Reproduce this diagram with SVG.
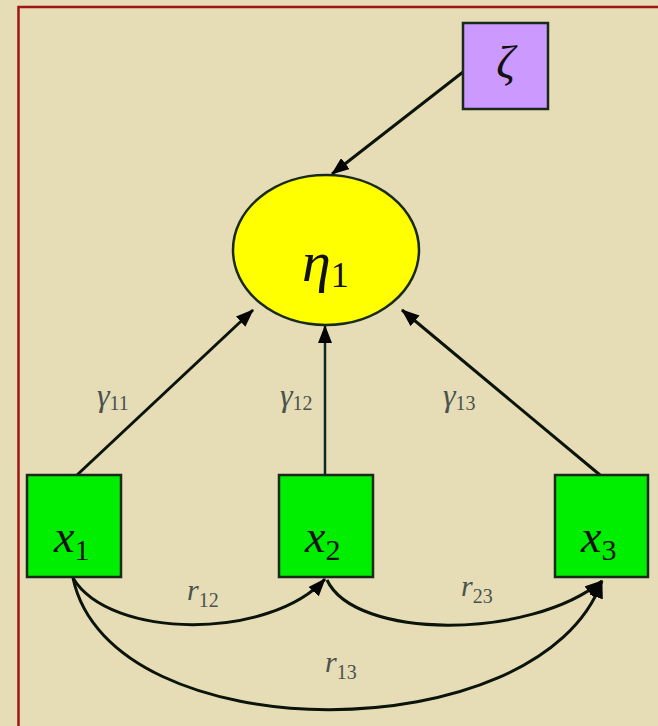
<svg xmlns="http://www.w3.org/2000/svg" width="658" height="726" viewBox="0 0 658 726">
<style>
.node{stroke:#1a2a1a;stroke-width:2.5}
.v{font-family:"Liberation Serif","DejaVu Serif",serif;font-style:italic;fill:#111}
.s{font-family:"Liberation Serif","DejaVu Serif",serif;font-style:normal;fill:#111}
.lab{font-family:"Liberation Serif","DejaVu Serif",serif;fill:#4a524e}
.edge{fill:none;stroke:#0a140a;stroke-width:3}
</style>
<defs>
<marker id="ah" viewBox="0 0 18 14" refX="17" refY="7" markerWidth="18" markerHeight="14" markerUnits="userSpaceOnUse" orient="auto">
<path d="M0,0 L18,7 L0,14 Z" fill="#050505"/>
</marker>
</defs>
<rect x="0" y="0" width="658" height="726" fill="#e6ddb6"/>
<rect x="18.5" y="7" width="660" height="740" fill="none" stroke="#a01414" stroke-width="2.5"/>
<g id="connectors">
<line class="edge" x1="463" y1="72" x2="332" y2="174" marker-end="url(#ah)"/>
<line class="edge" x1="77" y1="475" x2="253" y2="310" marker-end="url(#ah)"/>
<line class="edge" x1="325" y1="475" x2="325" y2="326" marker-end="url(#ah)" style="stroke:#0a2a22;stroke-width:2.5"/>
<line class="edge" x1="600" y1="475" x2="402" y2="310" marker-end="url(#ah)"/>
<path class="edge" d="M73,578 C110,640 270,640 325,579" marker-end="url(#ah)"/>
<path class="edge" d="M327,580 C355,640 530,640 602,581" marker-end="url(#ah)"/>
<path class="edge" d="M73,578 C110,753 540,753 602,581" marker-end="url(#ah)"/>
<text class="lab" x="97" y="406" font-size="32" font-style="italic">γ<tspan font-size="20" font-style="normal" dy="4">11</tspan></text>
<text class="lab" x="280" y="406" font-size="32" font-style="italic">γ<tspan font-size="20" font-style="normal" dy="4">12</tspan></text>
<text class="lab" x="443" y="406" font-size="32" font-style="italic">γ<tspan font-size="20" font-style="normal" dy="4">13</tspan></text>
<text class="lab" x="187" y="600" font-size="30" font-style="italic">r<tspan font-size="20" font-style="normal" dy="7">12</tspan></text>
<text class="lab" x="461" y="596" font-size="30" font-style="italic">r<tspan font-size="20" font-style="normal" dy="7">23</tspan></text>
<text class="lab" x="325" y="672" font-size="30" font-style="italic">r<tspan font-size="20" font-style="normal" dy="7">13</tspan></text>
</g>
<g id="zeta">
<rect class="node" x="463" y="23" width="85" height="86" fill="#cc99ff"/>
<text class="v" x="505.5" y="78" font-size="46" text-anchor="middle">ζ</text>
</g>
<g id="eta1">
<ellipse class="node" cx="326" cy="250" rx="93" ry="75" fill="#ffff00"/>
<text class="v" x="302" y="281" font-size="58">η<tspan class="s" font-size="36" dy="6">1</tspan></text>
</g>
<g id="x1">
<rect class="node" x="27" y="475" width="94" height="102" fill="#00ee00"/>
<text class="v" x="54" y="552" font-size="46">x<tspan class="s" font-size="30" dy="8">1</tspan></text>
</g>
<g id="x2">
<rect class="node" x="279" y="475" width="94" height="102" fill="#00ee00"/>
<text class="v" x="305" y="552" font-size="46">x<tspan class="s" font-size="30" dy="8">2</tspan></text>
</g>
<g id="x3">
<rect class="node" x="555" y="475" width="93" height="102" fill="#00ee00"/>
<text class="v" x="581" y="552" font-size="46">x<tspan class="s" font-size="30" dy="8">3</tspan></text>
</g>
</svg>
